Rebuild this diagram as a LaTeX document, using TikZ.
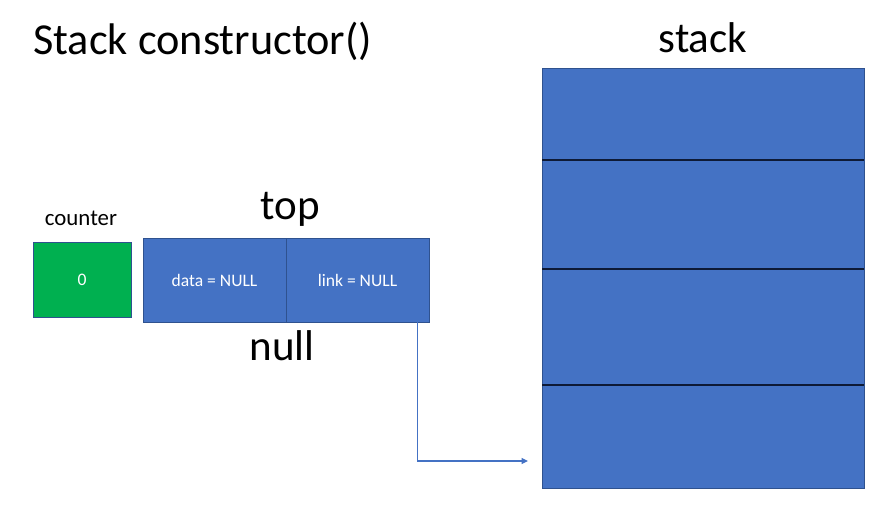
\documentclass[tikz,border=0pt]{standalone}
\usepackage{fontspec}
\setmainfont{Carlito}
\usepackage{tikz}
\usetikzlibrary{arrows.meta,positioning,calc}

\definecolor{boxblue}{HTML}{4472C4}
\definecolor{edgeblue}{HTML}{2F528F}
\definecolor{cntgreen}{HTML}{00B050}
\definecolor{divline}{HTML}{0E1A36}

\begin{document}
\begin{tikzpicture}[
  x=0.02cm,y=-0.02cm,
  big/.style={inner sep=0pt,font=\fontsize{24.5}{29}\selectfont},
  small/.style={inner sep=0pt,font=\fontsize{13}{15}\selectfont},
  cell/.style={draw=edgeblue,fill=boxblue,text=white,line width=.5pt,outer sep=0pt,minimum width=2.86cm,minimum height=1.68cm,inner sep=0pt,font=\fontsize{10}{12}\selectfont},
  slot/.style={draw=edgeblue,fill=boxblue,line width=.5pt,outer sep=0pt,minimum width=6.44cm,inner sep=0pt},
  ptr/.style={-{Triangle[length=1.3mm,width=1.2mm]},draw=boxblue,line width=.6pt}
]
\useasboundingbox (0,0) rectangle (894,510);
% headings
\node[big,font=\fontsize{25.2}{30}\selectfont,anchor=base west] (title) at (33,55) {Stack constructor()};
\node[big,anchor=base] (stacklbl) at (703,53) {stack};
% counter
\node[cell,fill=cntgreen,minimum width=1.96cm,minimum height=1.5cm] (counter) at (82,279.5) {0};
\node[small,anchor=base] (cntlbl) at (81,226) {counter};
% top node
\node[cell] (data) at (214.5,280) {data = NULL};
\node[cell,right=0pt of data] (link) {link = NULL};
\node[big,anchor=base] (toplbl) at (290,220) {top};
\node[big,anchor=base] (nulllbl) at (282,360) {null};
% stack slots
\node[slot,minimum height=1.84cm,anchor=north west] (s1) at (542,68) {};
\node[slot,minimum height=2.18cm,below=0pt of s1] (s2) {};
\node[slot,minimum height=2.32cm,below=0pt of s2] (s3) {};
\node[slot,minimum height=2.08cm,below=0pt of s3] (s4) {};
\draw[divline,line width=.7pt] (s1.south west) -- (s1.south east);
\draw[divline,line width=.7pt] (s2.south west) -- (s2.south east);
\draw[divline,line width=.7pt] (s3.south west) -- (s3.south east);
% link pointer
\coordinate (linkout) at ([xshift=-0.22cm]link.south east);
\coordinate (stackin) at (528,461);
\draw[ptr] (linkout) |- (stackin);
\end{tikzpicture}
\end{document}
